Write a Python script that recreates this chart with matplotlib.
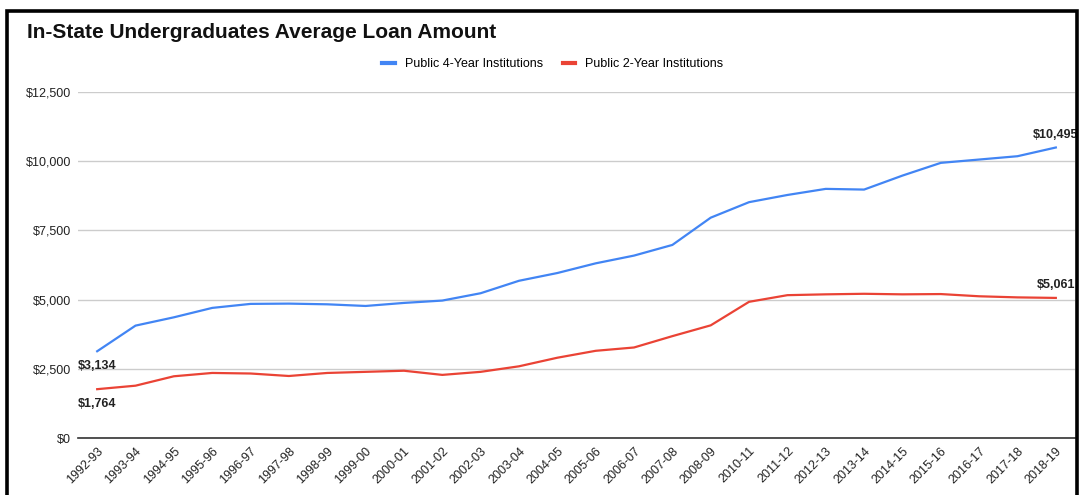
import matplotlib.pyplot as plt
from matplotlib.patches import Rectangle
from matplotlib.ticker import FuncFormatter

years = ['1992-93', '1993-94', '1994-95', '1995-96', '1996-97', '1997-98',
         '1998-99', '1999-00', '2000-01', '2001-02', '2002-03', '2003-04',
         '2004-05', '2005-06', '2006-07', '2007-08', '2008-09', '2010-11',
         '2011-12', '2012-13', '2013-14', '2014-15', '2015-16', '2016-17',
         '2017-18', '2018-19']
four_year = [3134, 4060, 4360, 4700, 4845, 4855, 4830, 4770, 4880, 4965,
             5230, 5680, 5960, 6310, 6590, 6975, 7960, 8520, 8780, 9000,
             8975, 9480, 9940, 10060, 10180, 10495]
two_year = [1764, 1890, 2230, 2350, 2330, 2240, 2350, 2390, 2430, 2280,
            2390, 2590, 2900, 3150, 3270, 3680, 4070, 4920, 5160, 5190,
            5210, 5190, 5200, 5120, 5080, 5061]

plt.rcParams['font.family'] = ['Liberation Sans', 'DejaVu Sans']

fig = plt.figure(figsize=(10.79, 4.95), dpi=100)
ax = fig.add_axes([78 / 1079, 1 - 438 / 495, 997 / 1079, 346 / 495])

x = range(len(years))
ax.plot(x, four_year, color='#4285F4', linewidth=1.6, label='Public 4-Year Institutions')
ax.plot(x, two_year, color='#EA4335', linewidth=1.6, label='Public 2-Year Institutions')

ax.set_xlim(-0.5, len(years) - 0.5)
ax.set_ylim(0, 12500)
ax.set_yticks([0, 2500, 5000, 7500, 10000, 12500])
ax.yaxis.set_major_formatter(FuncFormatter(lambda v, p: '${:,.0f}'.format(v)))
ax.set_xticks(list(x))
ax.set_xticklabels(years, rotation=45, ha='right', rotation_mode='anchor')
ax.tick_params(axis='both', length=0, labelsize=9, colors='#222222')
ax.tick_params(axis='x', pad=5)
ax.tick_params(axis='y', pad=5)
ax.grid(axis='y', color='#cccccc', linewidth=1)
ax.set_axisbelow(True)
for s in ['top', 'right', 'left']:
    ax.spines[s].set_visible(False)
ax.spines['bottom'].set_color('#333333')
ax.spines['bottom'].set_linewidth(1.2)

# end-point value labels
lab = dict(ha='center', fontsize=9, fontweight='bold', color='#222222')
ax.annotate('${:,}'.format(four_year[0]), (0, four_year[0]), xytext=(0, -6),
            textcoords='offset points', va='top', **lab)
ax.annotate('${:,}'.format(two_year[0]), (0, two_year[0]), xytext=(0, -6),
            textcoords='offset points', va='top', **lab)
ax.annotate('${:,}'.format(four_year[-1]), (len(years) - 1, four_year[-1]), xytext=(0, 5),
            textcoords='offset points', va='bottom', **lab)
ax.annotate('${:,}'.format(two_year[-1]), (len(years) - 1, two_year[-1]), xytext=(0, 5),
            textcoords='offset points', va='bottom', **lab)

leg = fig.legend(loc='center', bbox_to_anchor=(0.5125, 1 - 64 / 495), ncol=2,
                 frameon=False, fontsize=9, handlelength=1.0, handletextpad=0.8,
                 columnspacing=1.6)
for h in leg.get_lines():
    h.set_linewidth(3)

fig.text(27 / 1079, 1 - 33 / 495, 'In-State Undergraduates Average Loan Amount',
         fontsize=15, fontweight='bold', va='center', ha='left', color='#111111')

# black frame around the chart
fig.patches.append(Rectangle((7 / 1079, -0.05), 1070 / 1079, 1.05 - 11 / 495,
                             transform=fig.transFigure, fill=False,
                             edgecolor='black', linewidth=2.6))

fig.savefig('out.png', dpi=100)
